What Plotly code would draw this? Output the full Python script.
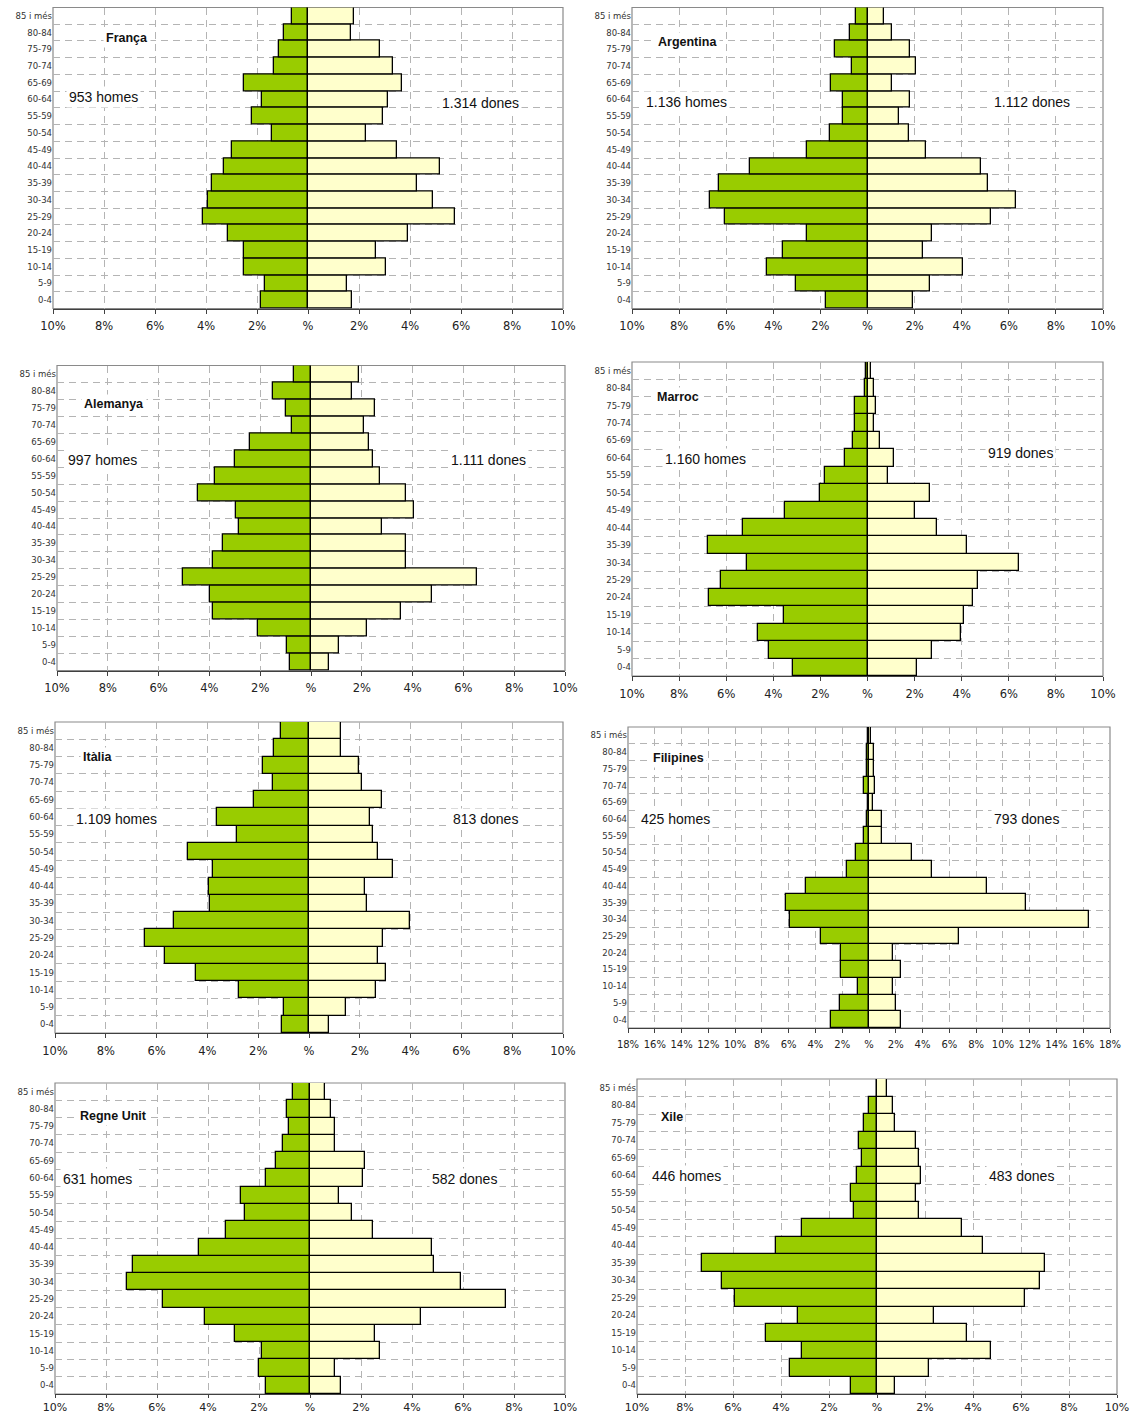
import plotly.graph_objects as go

W, H = 1131, 1417

ages = ["0-4", "5-9", "10-14", "15-19", "20-24", "25-29", "30-34", "35-39", "40-44",
        "45-49", "50-54", "55-59", "60-64", "65-69", "70-74", "75-79", "80-84", "85 i més"]

# values listed from 85 i més (top) down to 0-4 (bottom), in %
franca_homes = [0.64, 0.96, 1.12, 1.35, 2.50, 1.79, 2.18, 1.40, 2.98, 3.29, 3.78, 3.92, 4.13, 3.14, 2.50, 2.50, 1.70, 1.83]
franca_dones = [1.79, 1.67, 2.82, 3.32, 3.68, 3.14, 2.93, 2.26, 3.49, 5.18, 4.29, 4.91, 5.75, 3.93, 2.66, 3.07, 1.54, 1.73]

argentina_homes = [0.49, 0.76, 1.38, 0.67, 1.56, 1.05, 1.05, 1.60, 2.57, 5.01, 6.29, 6.70, 6.05, 2.57, 3.60, 4.28, 3.02, 1.78]
argentina_dones = [0.71, 1.05, 1.81, 2.04, 1.05, 1.81, 1.32, 1.77, 2.48, 4.83, 5.10, 6.32, 5.25, 2.75, 2.35, 4.04, 2.66, 1.95]

alemanya_homes = [0.68, 1.48, 1.00, 0.73, 2.41, 2.98, 3.79, 4.46, 2.94, 2.85, 3.46, 3.84, 5.03, 3.98, 3.84, 2.09, 0.96, 0.81]
alemanya_dones = [1.89, 1.61, 2.50, 2.08, 2.28, 2.46, 2.73, 3.74, 4.07, 2.81, 3.74, 3.74, 6.54, 4.78, 3.56, 2.22, 1.12, 0.70]

marroc_homes = [0.06, 0.12, 0.53, 0.53, 0.62, 0.97, 1.80, 2.02, 3.51, 5.27, 6.79, 5.10, 6.21, 6.73, 3.55, 4.65, 4.18, 3.18]
marroc_dones = [0.16, 0.28, 0.37, 0.28, 0.52, 1.14, 0.89, 2.67, 2.01, 2.93, 4.22, 6.42, 4.70, 4.46, 4.09, 3.97, 2.73, 2.11]

italia_homes = [1.12, 1.38, 1.81, 1.43, 2.17, 3.63, 2.84, 4.77, 3.79, 3.94, 3.89, 5.31, 6.44, 5.66, 4.46, 2.74, 0.98, 1.08]
italia_dones = [1.24, 1.24, 1.98, 2.10, 2.87, 2.39, 2.51, 2.71, 3.32, 2.19, 2.30, 3.97, 2.92, 2.71, 3.03, 2.65, 1.46, 0.79]

filipines_homes = [0.10, 0.16, 0.16, 0.37, 0.08, 0.16, 0.37, 0.95, 1.61, 4.72, 6.23, 5.88, 3.59, 2.11, 2.11, 0.84, 2.16, 2.85]
filipines_dones = [0.13, 0.34, 0.40, 0.42, 0.32, 0.95, 0.95, 3.22, 4.72, 8.84, 11.71, 16.41, 6.75, 1.82, 2.40, 1.82, 1.98, 2.40]

regneunit_homes = [0.67, 0.90, 0.81, 1.06, 1.32, 1.73, 2.70, 2.55, 3.29, 4.35, 6.94, 7.17, 5.78, 4.12, 2.96, 1.89, 1.99, 1.73]
regneunit_dones = [0.58, 0.83, 0.99, 0.99, 2.16, 2.08, 1.15, 1.65, 2.48, 4.79, 4.88, 5.94, 7.69, 4.37, 2.55, 2.73, 0.99, 1.23]

xile_homes = [0.00, 0.32, 0.53, 0.74, 0.64, 0.85, 1.07, 0.95, 3.11, 4.19, 7.31, 6.47, 5.93, 3.31, 4.63, 3.11, 3.64, 1.07]
xile_dones = [0.42, 0.66, 0.76, 1.62, 1.74, 1.84, 1.62, 1.74, 3.56, 4.42, 7.01, 6.79, 6.15, 2.36, 3.77, 4.74, 2.16, 0.76]

countries = ["França", "Argentina", "Alemanya", "Marroc", "Itàlia", "Filipines", "Regne Unit", "Xile"]
homes_txt = ["953 homes", "1.136 homes", "997 homes", "1.160 homes", "1.109 homes", "425 homes", "631 homes", "446 homes"]
dones_txt = ["1.314 dones", "1.112 dones", "1.111 dones", "919 dones", "813 dones", "793 dones", "582 dones", "483 dones"]
homes_all = [franca_homes, argentina_homes, alemanya_homes, marroc_homes,
             italia_homes, filipines_homes, regneunit_homes, xile_homes]
dones_all = [franca_dones, argentina_dones, alemanya_dones, marroc_dones,
             italia_dones, filipines_dones, regneunit_dones, xile_dones]
axis_max = [10, 10, 10, 10, 10, 18, 10, 10]

# panel geometry in pixels: left, right, top, bottom
panels = [
    (53, 563, 7.5, 308.5), (632, 1103, 7.5, 308.5),
    (57, 565, 365.5, 670.5), (632, 1103, 362, 676),
    (55, 563, 722, 1033), (628, 1110, 727, 1028),
    (55, 565, 1083, 1394), (637, 1117, 1079, 1394),
]
# annotation positions (left x, center y) in pixels
title_pos = [(103, 38), (655, 42), (81, 404), (654, 397), (80, 757), (650, 758), (77, 1116), (658, 1117)]
homes_pos = [(66, 97), (643, 102), (65, 460), (662, 459), (73, 819), (638, 819), (60, 1179), (649, 1176)]
dones_pos = [(439, 103), (991, 102), (448, 460), (985, 453), (450, 819), (991, 819), (429, 1179), (986, 1176)]

GREEN = "#99CC00"
CREAM = "#FFFFCC"
GRID = "#b4b4b4"

fig = go.Figure()
layout = dict(width=W, height=H, margin=dict(l=0, r=0, t=0, b=0, autoexpand=False),
              paper_bgcolor="white", plot_bgcolor="white", showlegend=False,
              barmode="relative", bargap=0, annotations=[], shapes=[])

for i in range(8):
    n = "" if i == 0 else str(i + 1)
    xa, ya = "x" + n, "y" + n
    h = list(reversed(homes_all[i]))
    d = list(reversed(dones_all[i]))
    fig.add_trace(go.Bar(y=ages, x=[-v for v in h], orientation="h", xaxis=xa, yaxis=ya,
                         marker=dict(color=GREEN, line=dict(color="black", width=1.3)),
                         name="Homes"))
    fig.add_trace(go.Bar(y=ages, x=d, orientation="h", xaxis=xa, yaxis=ya,
                         marker=dict(color=CREAM, line=dict(color="black", width=1.3)),
                         name="Dones"))
    L, R, T, B = panels[i]
    m = axis_max[i]
    tv = list(range(-m, m + 1, 2))
    tt = [("%d%%" % abs(v)) if v != 0 else "%" for v in tv]
    bottom_row = i >= 6
    fsize = 10 if m > 10 else (11 if bottom_row else 11.5)
    standoff = 0 if bottom_row else 3
    tlen = 3 if bottom_row else 4
    layout["xaxis" + n] = dict(domain=[L / W, R / W], anchor=ya, range=[-m, m],
                               tickvals=tv, ticktext=tt, showgrid=True, gridcolor=GRID,
                               griddash="7px,5px", gridwidth=1, zeroline=False,
                               showline=True, linecolor="#404040", linewidth=1.3,
                               ticks="outside", ticklen=tlen, tickcolor="#404040",
                               tickangle=0, automargin=False, ticklabelstandoff=standoff,
                               tickfont=dict(family="DejaVu Sans", size=fsize, color="#222"),
                               fixedrange=True)
    layout["yaxis" + n] = dict(domain=[1 - B / H, 1 - T / H], anchor=xa, type="category",
                               categoryorder="array", categoryarray=ages,
                               tickson="boundaries", showgrid=True, gridcolor=GRID,
                               griddash="7px,5px", gridwidth=1, ticks="",
                               showline=False, range=[-0.5, 17.5], automargin=False,
                               tickfont=dict(family="DejaVu Sans", size=8.5, color="#333"),
                               fixedrange=True)
    layout["shapes"].append(dict(type="rect", xref=xa + " domain", yref=ya + " domain",
                                 x0=0, x1=1, y0=0, y1=1, layer="below",
                                 line=dict(color="#8a8a8a", width=1.2)))
    tx, ty = title_pos[i]
    layout["annotations"].append(dict(text="<b>%s</b>" % countries[i], xref="paper", yref="paper",
                                      x=tx / W, y=1 - ty / H, xanchor="left", yanchor="middle",
                                      showarrow=False, bgcolor="white", borderpad=2,
                                      font=dict(family="Liberation Sans", size=12.5, color="#111")))
    hx, hy = homes_pos[i]
    layout["annotations"].append(dict(text=homes_txt[i], xref="paper", yref="paper",
                                      x=hx / W, y=1 - hy / H, xanchor="left", yanchor="middle",
                                      showarrow=False, bgcolor="white", borderpad=2,
                                      font=dict(family="Liberation Sans", size=14, color="#111")))
    dx, dy = dones_pos[i]
    layout["annotations"].append(dict(text=dones_txt[i], xref="paper", yref="paper",
                                      x=dx / W, y=1 - dy / H, xanchor="left", yanchor="middle",
                                      showarrow=False, bgcolor="white", borderpad=2,
                                      font=dict(family="Liberation Sans", size=14, color="#111")))

fig.update_layout(**layout)
fig.write_html("out.html", config={"displayModeBar": False},
               post_script="document.body.style.margin='0';document.body.style.overflow='hidden';")
